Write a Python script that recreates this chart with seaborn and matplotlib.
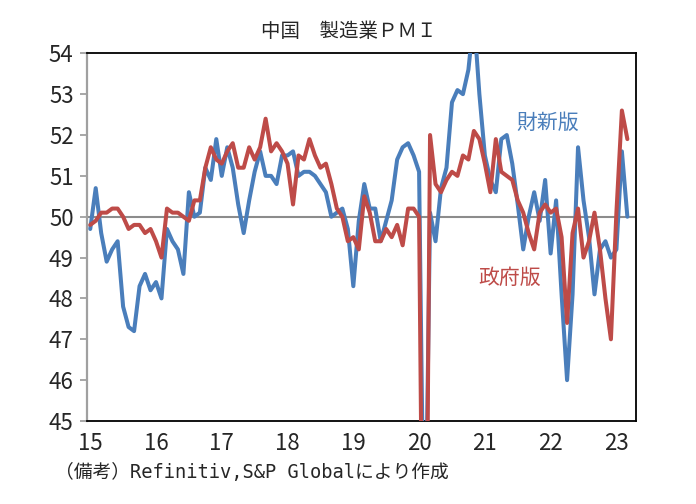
import numpy as np
import pandas as pd
import matplotlib
matplotlib.use("Agg")
import matplotlib.pyplot as plt
import seaborn as sns

# monthly values, Jan 2015 - Mar 2023
months = pd.date_range("2015-01-01", "2023-03-01", freq="MS")

caixin = [
    49.7, 50.7, 49.6, 48.9, 49.2, 49.4, 47.8, 47.3, 47.2, 48.3, 48.6, 48.2,  # 2015
    48.4, 48.0, 49.7, 49.4, 49.2, 48.6, 50.6, 50.0, 50.1, 51.2, 50.9, 51.9,  # 2016
    51.0, 51.7, 51.2, 50.3, 49.6, 50.4, 51.1, 51.6, 51.0, 51.0, 50.8, 51.5,  # 2017
    51.5, 51.6, 51.0, 51.1, 51.1, 51.0, 50.8, 50.6, 50.0, 50.1, 50.2, 49.7,  # 2018
    48.3, 49.9, 50.8, 50.2, 50.2, 49.4, 49.9, 50.4, 51.4, 51.7, 51.8, 51.5,  # 2019
    51.1, 40.3, 50.1, 49.4, 50.7, 51.2, 52.8, 53.1, 53.0, 53.6, 54.9, 53.0,  # 2020
    51.5, 50.9, 50.6, 51.9, 52.0, 51.3, 50.3, 49.2, 50.0, 50.6, 49.9, 50.9,  # 2021
    49.1, 50.4, 48.1, 46.0, 48.1, 51.7, 50.4, 49.5, 48.1, 49.2, 49.4, 49.0,  # 2022
    49.2, 51.6, 50.0,                                                        # 2023
]

official = [
    49.8, 49.9, 50.1, 50.1, 50.2, 50.2, 50.0, 49.7, 49.8, 49.8, 49.6, 49.7,  # 2015
    49.4, 49.0, 50.2, 50.1, 50.1, 50.0, 49.9, 50.4, 50.4, 51.2, 51.7, 51.4,  # 2016
    51.3, 51.6, 51.8, 51.2, 51.2, 51.7, 51.4, 51.7, 52.4, 51.6, 51.8, 51.6,  # 2017
    51.3, 50.3, 51.5, 51.4, 51.9, 51.5, 51.2, 51.3, 50.8, 50.2, 50.0, 49.4,  # 2018
    49.5, 49.2, 50.5, 50.1, 49.4, 49.4, 49.7, 49.5, 49.8, 49.3, 50.2, 50.2,  # 2019
    50.0, 35.7, 52.0, 50.8, 50.6, 50.9, 51.1, 51.0, 51.5, 51.4, 52.1, 51.9,  # 2020
    51.3, 50.6, 51.9, 51.1, 51.0, 50.9, 50.4, 50.1, 49.6, 49.2, 50.1, 50.3,  # 2021
    50.1, 50.2, 49.5, 47.4, 49.6, 50.2, 49.0, 49.4, 50.1, 49.2, 48.0, 47.0,  # 2022
    50.1, 52.6, 51.9,                                                        # 2023
]

year_labels = ["15", "16", "17", "18", "19", "20", "21", "22", "23"]

blue = "#4a7ebb"
red = "#be4b48"

df = pd.DataFrame({
    "idx": np.arange(len(months)),
    "財新版": caixin,
    "政府版": official,
})
long = df.melt(id_vars="idx", var_name="series", value_name="pmi")

sns.set_style("white")
plt.rcParams["font.family"] = ["Noto Sans CJK JP", "DejaVu Sans"]

fig = plt.figure(figsize=(6.96, 5.04), dpi=100)
ax = fig.add_axes([0.1257, 0.1647, 0.7875, 0.7295])

ax.axhline(50, color="#8c8c8c", lw=1.5, zorder=1)
sns.lineplot(data=long, x="idx", y="pmi", hue="series",
             hue_order=["財新版", "政府版"], palette=[blue, red],
             lw=2.9, legend=False, ax=ax, zorder=3)

ax.set_xlim(-0.5, 99.5)
ax.set_ylim(45, 54)
ax.set_yticks(range(45, 55))
ax.set_xticks(np.arange(0, 100, 12))
ax.set_xticklabels(year_labels)
ax.set_xlabel("")
ax.set_ylabel("")

for side in ["top", "right", "bottom"]:
    ax.spines[side].set_color("black")
    ax.spines[side].set_linewidth(1.3)
ax.spines["left"].set_color("#a0a0a0")
ax.spines["left"].set_linewidth(1.6)

ax.tick_params(axis="y", length=5, width=1.3, color="#a0a0a0", left=True, pad=5)
ax.tick_params(axis="x", length=0, pad=8)
tick_font = ["Liberation Sans Narrow", "Noto Sans CJK JP", "DejaVu Sans"]
for lab in ax.get_xticklabels() + ax.get_yticklabels():
    lab.set_family(tick_font)
    lab.set_fontsize(16)

ax.text(83.5, 52.3, "財新版", color=blue, fontsize=15, ha="center", va="center")
ax.text(76.5, 48.5, "政府版", color=red, fontsize=15, ha="center", va="center")

fig.text(0.501, 0.938, "中国　製造業ＰＭＩ", fontsize=14, ha="center", va="center")
fig.text(0.079, 0.062, "（備考）Refinitiv,S&P Globalにより作成", fontsize=13.5,
         family=["DejaVu Sans Mono", "Noto Sans CJK JP"], ha="left", va="center")

fig.savefig("out.png", dpi=100)
